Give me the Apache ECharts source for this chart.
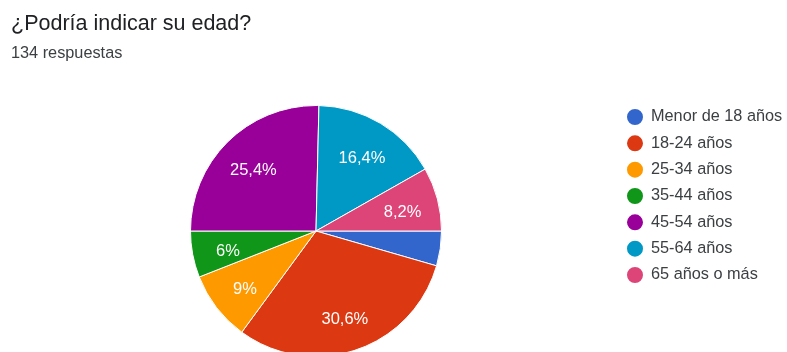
<!DOCTYPE html>
<html>
<head>
<meta charset="utf-8">
<script src="https://cdn.jsdelivr.net/npm/echarts@6/dist/echarts.min.js"></script>
<style>
  html, body { margin: 0; padding: 0; background: #fff; }
  #chart { width: 787px; height: 352px; }
</style>
</head>
<body>
<div id="chart"></div>
<script>
// Respuestas por grupo de edad
const categories = ['Menor de 18 años', '18-24 años', '25-34 años', '35-44 años', '45-54 años', '55-64 años', '65 años o más'];
const counts = [6, 41, 12, 8, 34, 22, 11];
const colors = ['#3366cc', '#dc3912', '#ff9900', '#109618', '#990099', '#0099c6', '#dd4477'];
const totalResponses = 134;

const FONT = '"Liberation Sans", Arial, Helvetica, sans-serif';
const center = [316, 231];
const radius = 125.5;

const pieData = categories.map((name, i) => ({ name, value: counts[i] }));

// percentage with a decimal comma; slices under 5% stay unlabeled
function pctLabel(p) {
  const v = p.value / totalResponses * 100;
  if (v < 5) return '';
  let s = (Math.round(v * 10) / 10).toFixed(1);
  if (s.endsWith('.0')) s = s.slice(0, -2);
  return s.replace('.', ',') + '%';
}

const chart = echarts.init(document.getElementById('chart'), null, { renderer: 'canvas' });
chart.setOption({
  animation: false,
  color: colors,
  title: {
    text: '¿Podría indicar su edad?',
    subtext: totalResponses + ' respuestas',
    left: 11,
    top: 11,
    padding: 0,
    itemGap: 7,
    textStyle: { fontFamily: FONT, fontSize: 21.5, lineHeight: 26, fontWeight: 'normal', color: '#202124' },
    subtextStyle: { fontFamily: FONT, fontSize: 16.3, lineHeight: 20, color: '#3c4043' }
  },
  legend: {
    orient: 'vertical',
    left: 625,
    top: 107,
    padding: 0,
    icon: 'circle',
    itemWidth: 18,
    itemHeight: 18,
    itemGap: 6.33,
    data: categories,
    textStyle: { fontFamily: FONT, fontSize: 16.3, lineHeight: 18, color: '#3c4043', padding: [0, 0, 0, 2] },
    selectedMode: false
  },
  series: [
    {
      type: 'pie',
      center: center,
      radius: [0, radius],
      startAngle: 0,
      clockwise: true,
      data: pieData,
      itemStyle: { borderColor: '#ffffff', borderWidth: 1 },
      label: { show: false },
      labelLine: { show: false },
      emphasis: { disabled: true }
    },
    {
      // transparent ring used only to place the percentage labels
      type: 'pie',
      center: center,
      radius: [0, radius * 1.38],
      startAngle: 0,
      clockwise: true,
      silent: true,
      data: pieData,
      itemStyle: { color: 'transparent', borderWidth: 0 },
      label: {
        show: true,
        position: 'inside',
        formatter: pctLabel,
        color: '#ffffff',
        fontFamily: FONT,
        fontSize: 16.5,
        offset: [0, 4]
      },
      labelLine: { show: false },
      emphasis: { disabled: true }
    }
  ]
});
</script>
</body>
</html>
